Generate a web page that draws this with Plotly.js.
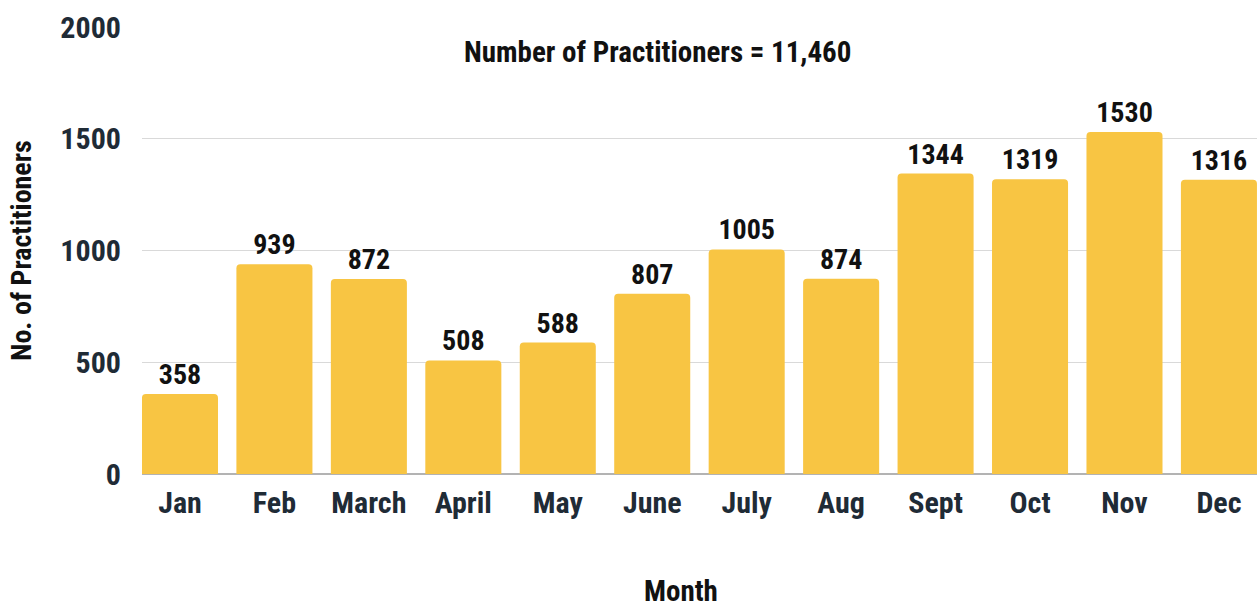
<!DOCTYPE html>
<html><head><meta charset="utf-8">
<script src="https://cdn.plot.ly/plotly-3.0.1.min.js"></script>
<style>html,body{margin:0;padding:0;background:#fff}#chart{width:1259px;height:607px}</style>
</head><body><div id="chart"></div>
<script>
const months = ["Jan","Feb","March","April","May","June","July","Aug","Sept","Oct","Nov","Dec"];
const practitioners = [358,939,872,508,588,807,1005,874,1344,1319,1530,1316];
const chartTitle = "Number of Practitioners = 11,460";
const xTitle = "Month";
const yTitle = "No. of Practitioners";

const FONT = "Roboto Condensed, Liberation Sans Narrow, DejaVu Sans Condensed, Roboto, sans-serif";
const L = 142, R = 2, W = 1259;

const trace = {
  type: "bar",
  x: months,
  y: practitioners,
  text: practitioners.map(String),
  textposition: "outside",
  cliponaxis: false,
  textfont: {family: FONT, size: 28, color: "#111111", weight: "bold"},
  marker: {color: "#F8C543"},
  hoverinfo: "x+y"
};

const layout = {
  width: 1259, height: 607,
  margin: {l: L, r: R, t: 27, b: 133},
  paper_bgcolor: "#ffffff", plot_bgcolor: "#ffffff",
  showlegend: false,
  bargap: 0.195,
  barcornerradius: 4,
  font: {family: FONT},
  xaxis: {
    type: "category",
    range: [-0.402, 11.403],
    tickfont: {family: FONT, size: 30, color: "#1f2b36", weight: "bold"},
    ticks: "outside", ticklen: 2, tickcolor: "rgba(0,0,0,0)",
    showgrid: false, zeroline: false, showline: false
  },
  yaxis: {
    range: [0, 2000],
    tickvals: [0, 500, 1000, 1500, 2000],
    tickfont: {family: FONT, size: 30, color: "#1f2b36", weight: "bold"},
    ticks: "outside", ticklen: 14, tickcolor: "rgba(0,0,0,0)",
    showgrid: true, gridcolor: "#d9d9d9", gridwidth: 1,
    zeroline: true, zerolinecolor: "#b3b3b3", zerolinewidth: 2,
    showline: false,
    title: {text: yTitle, font: {family: FONT, size: 28, color: "#111111", weight: "bold"}, standoff: 20}
  },
  annotations: [{
    text: chartTitle, xref: "paper", yref: "paper",
    x: (657 - L) / (W - L - R), y: 1, yshift: -25,
    xanchor: "center", yanchor: "middle", showarrow: false,
    font: {family: FONT, size: 29, color: "#111111", weight: "bold"}
  }, {
    text: xTitle, xref: "paper", yref: "paper",
    x: (681 - L) / (W - L - R), y: 0, yshift: -117,
    xanchor: "center", yanchor: "middle", showarrow: false,
    font: {family: FONT, size: 29, color: "#111111", weight: "bold"}
  }]
};

Plotly.newPlot("chart", [trace], layout, {displayModeBar: false, responsive: false});
</script></body></html>
